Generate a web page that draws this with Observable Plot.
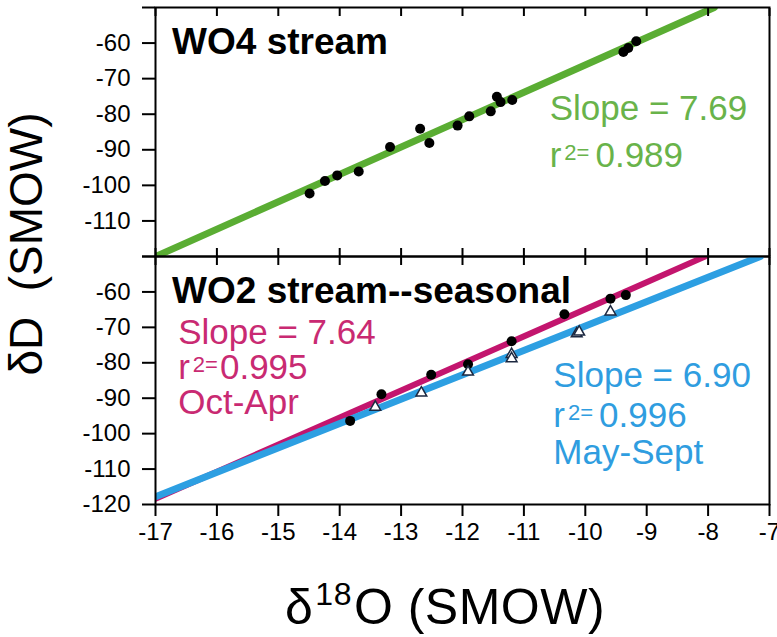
<!DOCTYPE html>
<html>
<head>
<meta charset="utf-8">
<script src="https://cdn.jsdelivr.net/npm/d3@7"></script>
<script src="https://cdn.jsdelivr.net/npm/@observablehq/plot@0.6"></script>
<style>
  body { margin: 0; background: #fff; }
  #wrap { position: relative; width: 777px; height: 637px; background: #fff;
          font-family: "Liberation Sans", Arial, Helvetica, sans-serif; color: #000; overflow: hidden; }
  #wrap svg { display: block; overflow: visible; }
  .xlab { position: absolute; left: 285px; top: 582px; font-size: 50px; line-height: 1; white-space: pre; letter-spacing: 0.5px; }
  .xlab .sup { position: relative; top: -19px; font-size: 32px; margin-left: 2px; margin-right: 2px; }
  .ylab { position: absolute; left: 26px; top: 244px; font-size: 46px; line-height: 1; white-space: pre;
          transform: translate(-50%, -50%) rotate(-90deg); }
</style>
</head>
<body>
<div id="wrap">
  <div id="charts"></div>
  <div class="ylab">δD  (SMOW)</div>
  <div class="xlab">δ<span class="sup">18</span>O (SMOW)</div>
</div>
<script>
// ---------- ticks ----------
const xTicks = [-17, -16, -15, -14, -13, -12, -11, -10, -9, -8, -7];
const yTicks = [-50, -60, -70, -80, -90, -100, -110, -120];
const topYLabels = [-60, -70, -80, -90, -100, -110];
const botYLabels = [-60, -70, -80, -90, -100, -110, -120];

// ---------- WO4 stream (δ18O, δD) ----------
const wo4O = [-14.49, -14.24, -14.04, -13.69, -13.18, -12.69, -12.54, -12.08, -11.89, -11.54, -11.44, -11.38, -11.19, -9.38, -9.30, -9.17];
const wo4D = [-102.3, -98.8, -97.2, -96.1, -89.2, -84.1, -88.1, -83.2, -80.6, -79.2, -75.1, -76.6, -76.0, -62.5, -61.4, -59.5];

// ---------- WO2 stream, Oct-Apr (filled circles) ----------
const octO = [-13.83, -13.32, -12.51, -11.91, -11.20, -10.34, -9.59, -9.34];
const octD = [-96.4, -88.9, -83.4, -80.4, -73.9, -66.3, -61.9, -60.9];

// ---------- WO2 stream, May-Sept (open triangles) ----------
const mayO = [-13.42, -12.67, -11.91, -11.20, -11.20, -10.14, -10.10, -9.59];
const mayD = [-92.5, -88.5, -82.6, -77.6, -78.8, -71.8, -71.3, -65.6];

// ---------- regression lines (end points) ----------
const wo4LineO = [-17, -7.9],  wo4LineD = [-120, -50];
const octLineO = [-17, -8.05], octLineD = [-118.4, -50];
const mayLineO = [-17, -7.15], mayLineD = [-117.8, -50];

// ---------- annotation texts ----------
const topTitle = ["WO4 stream"];
const topNotes = ["Slope = 7.69", "r²= 0.989"];
const botTitle = ["WO2 stream--seasonal"];
const octNotes = ["Slope = 7.64", "r²=0.995", "Oct-Apr"];
const mayNotes = ["Slope = 6.90", "r²= 0.996", "May-Sept"];
// annotation anchors (data units: δ18O, δD of text baseline start)
const topTitleAt = {o: [-16.73], d: [-63.0]};
const topNotesAt = {o: [-10.58, -10.58], d: [-81.6, -94.8]};
const botTitleAt = {o: [-16.73], d: [-63.0]};
const octNotesAt = {o: [-16.63, -16.63, -16.63], d: [-74.6, -84.6, -94.4]};
const mayNotesAt = {o: [-10.52, -10.52, -10.52], d: [-86.9, -98.0, -108.5]};

// ---------- styling ----------
const FONT = '"Liberation Sans", Arial, Helvetica, sans-serif';
const GREEN = "#5aad33", GREEN_T = "#69b34a";
const MAG = "#c3156e", MAG_T = "#c92a72";
const BLUE = "#2d9fe2", BLUE_T = "#2f9de0";
const NOTE = 35, TITLE = 37, TICK = 24, SUP = 22;

const pts = (xs, ys) => xs.map((x, i) => ({o: x, d: ys[i]}));
const notes = (texts, at, fill, size, weight) =>
  Plot.text(texts, {
    x: (t, i) => at.o[i], y: (t, i) => at.d[i], text: d => d,
    textAnchor: "start", lineAnchor: "bottom",
    fill, fontSize: size, fontWeight: weight, fontFamily: FONT
  });

function superscripts(svg) {
  d3.select(svg).selectAll("text").each(function () {
    const t = this.textContent;
    const i = t.indexOf("²");
    if (i < 0) return;
    const before = t.slice(0, i);
    let after = t.slice(i + 1);
    let sup = "2";
    if (after.startsWith("=")) { sup = "2="; after = after.slice(1); }
    const sel = d3.select(this);
    sel.text("");
    sel.append("tspan").text(before);
    sel.append("tspan").attr("dx", 3).attr("dy", -7).attr("font-size", SUP).text(sup);
    sel.append("tspan").attr("dy", 7).attr("dx", after.startsWith(" ") ? 6 : 2).text(after.trim());
  });
}

const common = {
  width: 777, marginLeft: 155, marginRight: 8,
  x: {domain: [-17, -7], axis: null},
  y: {domain: [-120, -50], axis: null},
  style: {fontFamily: FONT, fontSize: TICK + "px", background: "#fff", color: "#000", overflow: "visible"}
};

const topChart = Plot.plot({
  ...common, height: 256, marginTop: 7, marginBottom: 0,
  marks: [
    Plot.line(pts(wo4LineO, wo4LineD), {x: "o", y: "d", stroke: GREEN, strokeWidth: 7, clip: true}),
    Plot.dot(pts(wo4O, wo4D), {x: "o", y: "d", r: 5, fill: "#000"}),
    notes(topTitle, topTitleAt, "#000", TITLE, "bold"),
    notes(topNotes, topNotesAt, GREEN_T, NOTE, "normal"),
    Plot.axisY(yTicks, {tickSize: 13, tickPadding: 12, strokeWidth: 2, fontSize: TICK, label: null,
      tickFormat: d => topYLabels.includes(d) ? String(d) : ""}),
    Plot.axisX(xTicks, {anchor: "top", tickSize: -8, strokeWidth: 2, label: null, tickFormat: () => ""}),
    Plot.axisX(xTicks, {anchor: "bottom", tickSize: -8, strokeWidth: 2, label: null, tickFormat: () => ""}),
    Plot.frame({stroke: "#000", strokeWidth: 2})
  ]
});

const botChart = Plot.plot({
  ...common, height: 381, marginTop: 0, marginBottom: 133,
  marks: [
    Plot.line(pts(octLineO, octLineD), {x: "o", y: "d", stroke: MAG, strokeWidth: 6, clip: true}),
    Plot.line(pts(mayLineO, mayLineD), {x: "o", y: "d", stroke: BLUE, strokeWidth: 7, clip: true}),
    Plot.dot(pts(octO, octD), {x: "o", y: "d", r: 5, fill: "#000"}),
    Plot.dot(pts(mayO, mayD), {x: "o", y: "d", r: 4, symbol: "triangle", fill: "#fff", stroke: "#1c2840", strokeWidth: 1.5}),
    notes(botTitle, botTitleAt, "#000", TITLE, "bold"),
    notes(octNotes, octNotesAt, MAG_T, NOTE, "normal"),
    notes(mayNotes, mayNotesAt, BLUE_T, NOTE, "normal"),
    Plot.axisY(yTicks, {tickSize: 13, tickPadding: 12, strokeWidth: 2, fontSize: TICK, label: null,
      tickFormat: d => botYLabels.includes(d) ? String(d) : ""}),
    Plot.axisX(xTicks, {anchor: "top", tickSize: -8, strokeWidth: 2, label: null, tickFormat: () => ""}),
    Plot.axisX(xTicks, {anchor: "bottom", tickSize: 12, tickPadding: 6, strokeWidth: 2, fontSize: TICK, label: null,
      tickFormat: d => String(d)}),
    Plot.frame({stroke: "#000", strokeWidth: 2})
  ]
});

superscripts(topChart);
superscripts(botChart);
const charts = document.getElementById("charts");
charts.appendChild(topChart);
charts.appendChild(botChart);
</script>
</body>
</html>
